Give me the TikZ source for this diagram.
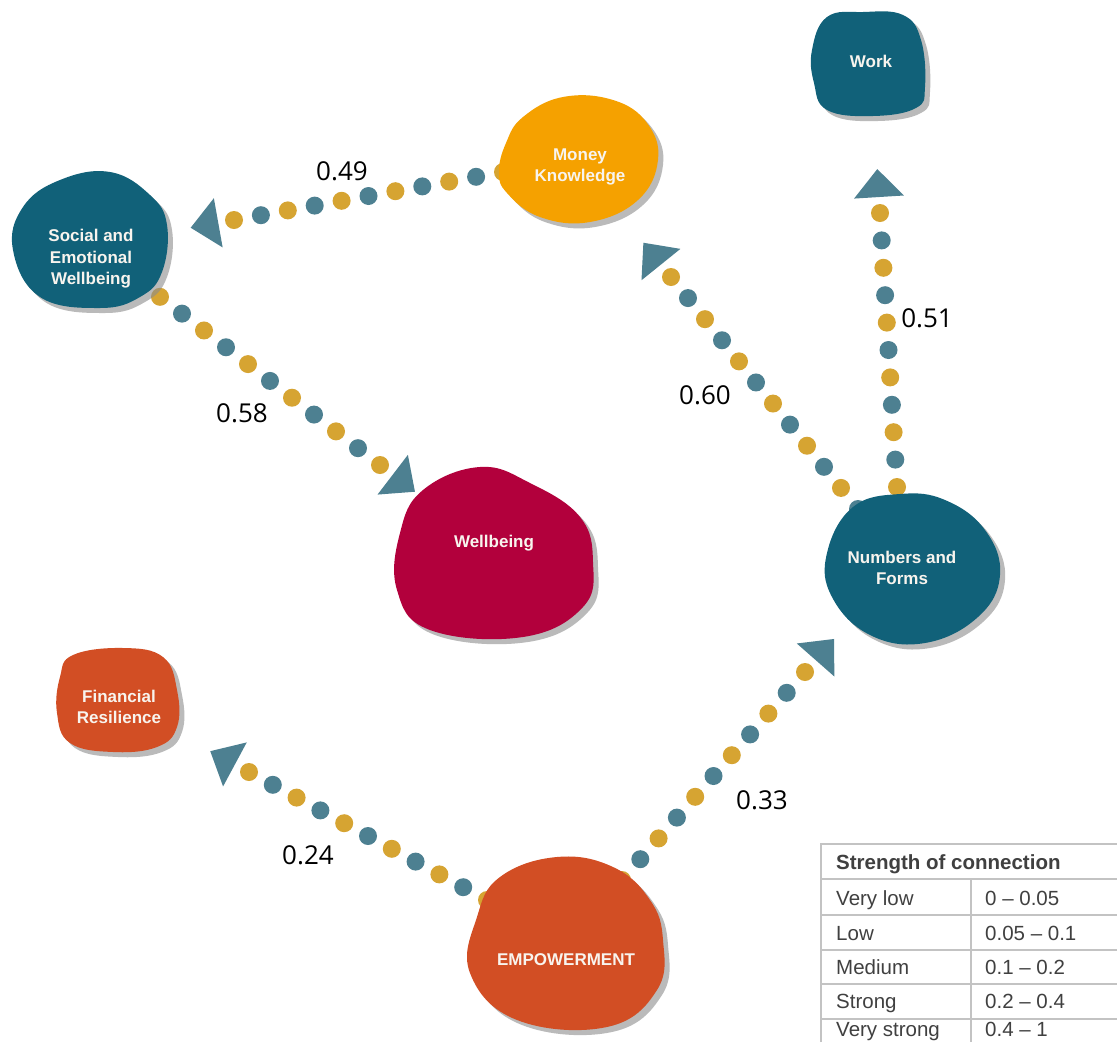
\documentclass[tikz,border=0pt]{standalone}
\usepackage{fontspec}
\setmainfont{Liberation Sans}
\newfontfamily\labelfont{Open Sans}
\usetikzlibrary{calc}

\definecolor{blobteal}{RGB}{17,97,121}
\definecolor{blobgold}{RGB}{245,161,0}
\definecolor{blobred}{RGB}{178,0,60}
\definecolor{blobrust}{RGB}{210,78,36}
\definecolor{dotgold}{RGB}{214,164,50}
\definecolor{dotteal}{RGB}{77,128,145}
\definecolor{shadowgray}{RGB}{140,140,140}
\definecolor{tablegray}{RGB}{195,195,195}
\definecolor{tabletext}{RGB}{64,64,64}
\definecolor{blobfont}{RGB}{248,244,238}

\tikzset{
  blobtext/.style={text=blobfont, font=\bfseries\fontsize{17}{21.5}\selectfont, align=center, inner sep=0pt},
  weight/.style={font=\labelfont\fontsize{26}{30}\selectfont, text=black, inner sep=0pt},
  cell/.style={font=\fontsize{20.5}{24}\selectfont, text=tabletext, anchor=base west, inner sep=0pt},
  cellhead/.style={cell, font=\bfseries\fontsize{20.5}{24}\selectfont},
  tline/.style={draw=tablegray, line width=2pt},
  blobshadow/.style={fill=shadowgray, opacity=0.6},
}

\newcommand{\blobshape}[2]{%
  \fill[blobshadow, shift={(5,5)}] plot[smooth cycle, tension=0.7] coordinates {#2};
  \fill[#1] plot[smooth cycle, tension=0.7] coordinates {#2};
}

\newcommand{\dotconn}[3]{% start, end, intervals
  \foreach \i in {0,...,#3}{%
    \ifodd\i\relax
      \fill[dotteal] ($(#2)!\i/#3!(#1)$) circle[radius=9pt];
    \else
      \fill[dotgold] ($(#2)!\i/#3!(#1)$) circle[radius=9pt];
    \fi
  }
  \path ($(#2)!-16pt!(#1)$) coordinate (bm) ($(#2)!-44pt!(#1)$) coordinate (tp);
  \fill[dotteal] (tp) -- ($(bm)!25pt!90:(#1)$) -- ($(bm)!25pt!-90:(#1)$) -- cycle;
}

\begin{document}
\begin{tikzpicture}[x=1pt,y=-1pt]
\useasboundingbox (0,0) rectangle (1117,1042);
\fill[white] (0,0) rectangle (1117,1042);

% connector end points
\coordinate (c1s) at (503,172); \coordinate (c1e) at (234,220);
\coordinate (c2s) at (138,280); \coordinate (c2e) at (380,465);
\coordinate (c3s) at (858,509); \coordinate (c3e) at (671,277);
\coordinate (c4s) at (897,487); \coordinate (c4e) at (880,213);
\coordinate (c5s) at (622,880); \coordinate (c5e) at (805,672);
\coordinate (c6s) at (487,900); \coordinate (c6e) at (249,772);

\dotconn{c1s}{c1e}{10}
\dotconn{c2s}{c2e}{11}
\dotconn{c3s}{c3e}{11}
\dotconn{c4s}{c4e}{10}
\dotconn{c5s}{c5e}{10}
\dotconn{c6s}{c6e}{10}

% blobs
\blobshape{blobteal}{(827,17) (863,12) (903,15) (921,40) (925,87) (916,108) (873,116) (827,110) (814,83) (812,50)}
\blobshape{blobgold}{(499,172) (506,143) (523,117) (563,97) (613,100) (647,123) (658,160) (638,200) (590,222) (540,217) (507,193)}
\blobshape{blobteal}{(23,207) (60,180) (110,172) (150,195) (167,225) (162,272) (140,297) (100,308) (40,297) (13,250)}
\blobshape{blobred}{(400,533) (423,490) (480,467) (530,483) (580,517) (593,562) (583,607) (523,637) (430,630) (397,590)}
\blobshape{blobteal}{(827,553) (853,507) (900,494) (945,500) (985,530) (1000,575) (978,617) (925,643) (870,635) (832,597)}
\blobshape{blobrust}{(60,677) (73,655) (123,648) (163,657) (177,690) (177,727) (157,747) (113,752) (70,743) (57,713)}
\blobshape{blobrust}{(477,917) (500,877) (557,857) (613,867) (650,900) (663,940) (657,990) (607,1027) (517,1020) (470,973)}

% blob labels
\node[blobtext] (work) at (871,61) {Work};
\node[blobtext] (money) at (580,167) {Money\\Knowledge};
\node[blobtext] (sew) at (91,259) {Social and\\Emotional\\Wellbeing};
\node[blobtext] (wellbeing) at (494,543) {Wellbeing};
\node[blobtext] (numbers) at (902,568) {Numbers and\\Forms};
\node[blobtext] (finres) at (119,707) {Financial\\Resilience};
\node[blobtext] (empower) at (566,960) {EMPOWERMENT};

% weights
\node[weight] (w1) at (342,171) {0.49};
\node[weight] (w2) at (242,413) {0.58};
\node[weight] (w3) at (705,395) {0.60};
\node[weight] (w4) at (927,318) {0.51};
\node[weight] (w5) at (762,800) {0.33};
\node[weight] (w6) at (308,855) {0.24};

% table
\draw[tline] (821,1042) -- (821,844) -- (1117,844);
\draw[tline] (821,879) -- (1117,879);
\draw[tline] (821,915) -- (1117,915);
\draw[tline] (821,950) -- (1117,950);
\draw[tline] (821,984) -- (1117,984);
\draw[tline] (821,1019) -- (1117,1019);
\draw[tline] (971,879) -- (971,1042);

\node[cellhead] (th) at (836,869) {Strength of connection};
\node[cell] (r1a) at (836,905) {Very low};   \node[cell] (r1b) at (985,905) {0 – 0.05};
\node[cell] (r2a) at (836,940) {Low};        \node[cell] (r2b) at (985,940) {0.05 – 0.1};
\node[cell] (r3a) at (836,974) {Medium};     \node[cell] (r3b) at (985,974) {0.1 – 0.2};
\node[cell] (r4a) at (836,1008) {Strong};    \node[cell] (r4b) at (985,1008) {0.2 – 0.4};
\node[cell] (r5a) at (836,1036) {Very strong}; \node[cell] (r5b) at (985,1036) {0.4 – 1};
\end{tikzpicture}
\end{document}
